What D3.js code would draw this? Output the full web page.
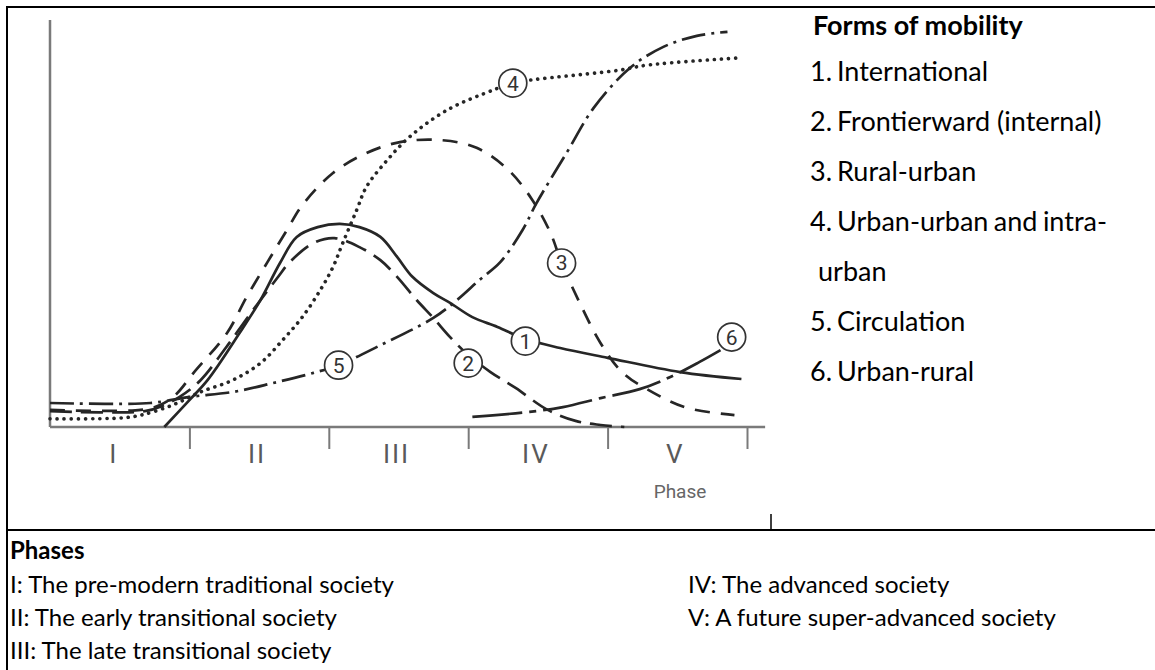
<!DOCTYPE html>
<html>
<head>
<meta charset="utf-8">
<script src="https://cdn.jsdelivr.net/npm/d3@7"></script>
<style>
  body { margin: 0; background: #fff; }
  svg { display: block; }
</style>
</head>
<body>
<svg id="chart" width="1155" height="670"></svg>
<script>
// phase labels under the axis, and where the phase ticks sit
var phases = ["I", "II", "III", "IV", "V"];
var phaseTicks = [1, 2, 3, 4, 5];

// each curve: [position along phases 0-5, relative volume 0-100]
var international = [[0.82,0],[1.0,6.6],[1.13,11.5],[1.36,23.1],[1.51,31.2],[1.65,40.3],[1.77,46.7],
  [1.92,49.1],[2.08,49.9],[2.22,49.1],[2.37,46.7],[2.49,41.8],[2.6,36.9],[2.75,32.9],[2.87,30.5],
  [3.03,27.0],[3.21,24.6],[3.41,21.6],[3.66,19.4],[4.0,17.0],[4.52,13.5],[4.96,11.8]];
var frontierward = [[0,3.9],[0.68,3.9],[0.82,5.4],[0.93,7.4],[1.08,11.5],[1.26,19.4],[1.43,27.5],
  [1.63,36.6],[1.72,40.5],[1.89,45.2],[2.04,46.4],[2.22,44.2],[2.37,41.0],[2.49,36.9],[2.63,31.2],
  [2.75,26.8],[2.87,22.1],[3.0,17.7],[3.16,13.5],[3.34,9.6],[3.57,4.2],[3.77,1.5],[3.95,0.5],[4.12,0]];
var ruralUrban = [[0,4.2],[0.65,4.2],[0.79,5.4],[0.9,7.9],[1.03,13.3],[1.27,23.1],[1.41,31.9],
  [1.56,40.5],[1.7,48.4],[1.81,54.5],[2.03,62.4],[2.27,67.3],[2.51,70.0],[2.8,70.5],[3.06,68.6],
  [3.29,63.1],[3.46,55.8],[3.59,47.7],[3.67,40.3],[3.8,30.5],[3.95,20.6],[4.11,13.3],[4.33,8.4],
  [4.57,4.7],[4.91,2.9]];
var urbanUrban = [[0,2.0],[0.5,2.2],[0.65,2.9],[0.88,5.4],[1.08,8.6],[1.31,11.5],[1.51,15.7],
  [1.67,21.4],[1.81,27.0],[1.94,33.7],[2.03,39.3],[2.1,45.2],[2.2,53.3],[2.27,59.0],[2.42,65.6],
  [2.58,71.3],[2.85,77.9],[3.18,82.8],[3.32,84.5],[3.46,85.3],[4.09,87.7],[4.28,88.9],[4.95,90.7]];
var circulation = [[0,5.9],[0.72,5.9],[1.0,7.4],[1.31,8.6],[1.6,10.8],[1.89,13.3],[2.07,15.2],
  [2.37,20.1],[2.75,26.8],[2.92,31.2],[3.08,36.1],[3.23,40.5],[3.39,48.4],[3.49,55.0],[3.71,67.6],
  [3.9,78.4],[4.16,88.2],[4.4,93.4],[4.64,96.1],[4.86,97.1]];
var urbanRural = [[3.03,2.5],[3.44,3.7],[3.68,4.9],[3.95,7.1],[4.23,9.3],[4.45,12.3],[4.66,16.0],[4.81,18.9]];

// where the numbered circles sit on each curve
var markers = [[3.41,21.1],[3.0,15.7],[3.67,40.3],[3.32,84.5],[2.07,15.2],[4.89,22.1]];

var forms = ["International", "Frontierward (internal)", "Rural-urban",
  "Urban-urban and intra-urban", "Circulation", "Urban-rural"];
var phaseNamesLeft = ["I: The pre-modern traditional society",
  "II: The early transitional society", "III: The late transitional society"];
var phaseNamesRight = ["IV: The advanced society", "V: A future super-advanced society"];

var svg = d3.select("#chart");
var ink = "#262626", grey = "#7a7a7a";
var textFont = "Lato, 'Open Sans', sans-serif";
var labelFont = "Roboto, 'Noto Sans', sans-serif";

// table borders
svg.append("line").attr("x1", 7).attr("x2", 1155).attr("y1", 7).attr("y2", 7)
  .attr("stroke", "#000").attr("stroke-width", 2);
svg.append("line").attr("x1", 7).attr("x2", 7).attr("y1", 6).attr("y2", 670)
  .attr("stroke", "#000").attr("stroke-width", 2);
svg.append("line").attr("x1", 7).attr("x2", 1155).attr("y1", 530).attr("y2", 530)
  .attr("stroke", "#000").attr("stroke-width", 2);
svg.append("line").attr("x1", 771).attr("x2", 771).attr("y1", 514).attr("y2", 530)
  .attr("stroke", "#000").attr("stroke-width", 1.5);

var x = d3.scaleLinear().domain([0, 5]).range([50, 747]);
var y = d3.scaleLinear().domain([0, 100]).range([427, 20]);

var g = svg.append("g");

// axes
g.append("line").attr("x1", x(0)).attr("x2", x(0)).attr("y1", y(100)).attr("y2", y(0))
  .attr("stroke", grey).attr("stroke-width", 2.5);
g.append("line").attr("x1", x(0)).attr("x2", x(5.13)).attr("y1", y(0)).attr("y2", y(0))
  .attr("stroke", grey).attr("stroke-width", 2.5);

var xAxis = d3.axisBottom(x).tickValues(phaseTicks).tickSize(22).tickSizeOuter(0).tickFormat("");
var ax = g.append("g").attr("transform", "translate(0," + y(0) + ")").call(xAxis);
ax.select(".domain").remove();
ax.selectAll(".tick line").attr("stroke", grey).attr("stroke-width", 2);

g.selectAll(".phase").data(phases).enter().append("text")
  .attr("x", function(d, i) { return x(i + 0.5) - (i === 0 ? 6 : 2); })
  .attr("y", 463)
  .attr("text-anchor", "middle")
  .attr("font-family", labelFont).attr("font-size", 26).attr("letter-spacing", 2)
  .attr("fill", "#5a5a5a")
  .text(function(d) { return d; });

g.append("text").attr("x", 680).attr("y", 498).attr("text-anchor", "middle")
  .attr("font-family", labelFont).attr("font-size", 19).attr("fill", "#666").text("Phase");

// the six curves
var line = d3.line()
  .x(function(d) { return x(d[0]); })
  .y(function(d) { return y(d[1]); })
  .curve(d3.curveCatmullRom.alpha(0.5));

var curves = [
  {pts: international, dash: null},
  {pts: frontierward, dash: "22,9"},
  {pts: ruralUrban, dash: "15,11"},
  {pts: urbanUrban, dash: "0.1,7", dotted: true},
  {pts: circulation, dash: "24,6,3,6"},
  {pts: urbanRural, dash: "50,7,7,7"}
];

g.selectAll(".curve").data(curves).enter().append("path")
  .attr("class", "curve")
  .attr("d", function(d) { return line(d.pts); })
  .attr("fill", "none")
  .attr("stroke", ink)
  .attr("stroke-width", function(d) { return d.dotted ? 3.6 : 2.7; })
  .attr("stroke-linecap", function(d) { return d.dotted ? "round" : "butt"; })
  .attr("stroke-dasharray", function(d) { return d.dash; });

var mk = g.selectAll(".mk").data(markers).enter().append("g")
  .attr("transform", function(d) { return "translate(" + x(d[0]) + "," + y(d[1]) + ")"; });
mk.append("circle").attr("r", 14).attr("fill", "#fff").attr("stroke", "#333").attr("stroke-width", 1.7);
mk.append("text").attr("y", 7.5).attr("text-anchor", "middle")
  .attr("font-family", labelFont).attr("font-size", 21).attr("fill", "#333")
  .text(function(d, i) { return i + 1; });

// legend on the right
var fs = 27;
var leg = svg.append("g").attr("font-family", textFont).attr("fill", "#000").attr("font-size", fs);
leg.append("text").attr("x", 813).attr("y", 35).attr("font-weight", "bold")
  .text("Forms of mobility");

var rowY = [81, 131, 181, 231, 331, 381];
forms.forEach(function(f, i) {
  leg.append("text").attr("x", 810).attr("y", rowY[i]).text((i + 1) + ".");
  if (i === 3) {
    // justified line that wraps onto a second line
    var a = leg.append("text").attr("x", 837).attr("y", rowY[i]).text("Urban-urban");
    var c = leg.append("text").attr("x", 1107).attr("y", rowY[i]).attr("text-anchor", "end").text("intra-");
    var left = 837 + a.node().getComputedTextLength();
    var right = 1107 - c.node().getComputedTextLength();
    leg.append("text").attr("x", (left + right) / 2).attr("y", rowY[i])
      .attr("text-anchor", "middle").text("and");
    leg.append("text").attr("x", 818).attr("y", rowY[i] + 50).text("urban");
  } else {
    leg.append("text").attr("x", 837).attr("y", rowY[i]).text(f);
  }
});

// phase descriptions at the bottom
var bot = svg.append("g").attr("font-family", textFont).attr("fill", "#000").attr("font-size", 24);
bot.append("text").attr("x", 10).attr("y", 559).attr("font-weight", "bold").text("Phases");
phaseNamesLeft.forEach(function(t, i) {
  bot.append("text").attr("x", 10).attr("y", 593 + i * 33).text(t);
});
phaseNamesRight.forEach(function(t, i) {
  bot.append("text").attr("x", 688).attr("y", 593 + i * 33).text(t);
});
</script>
</body>
</html>
